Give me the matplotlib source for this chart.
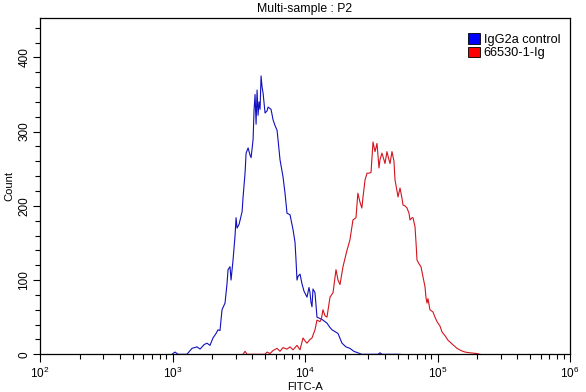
import matplotlib
matplotlib.use("Agg")
import matplotlib.pyplot as plt
import numpy as np
from matplotlib.patches import Patch
from matplotlib.ticker import LogLocator, MultipleLocator, NullFormatter

plt.rcParams.update({
    "font.family": ["Liberation Sans", "DejaVu Sans"],
    "font.size": 8.5,
    "mathtext.fontset": "custom",
    "mathtext.rm": "Liberation Sans",
    "mathtext.it": "Liberation Sans",
    "mathtext.bf": "Liberation Sans",
})

# ---------------------------------------------------------------
# Data (FITC-A channel value, event count)
# ---------------------------------------------------------------
ctrl_fitc = [991, 1045, 1101, 1285, 1403, 1531, 1614, 1730, 1821, 1918,
             2021, 2130, 2205, 2282, 2364, 2490, 2578, 2624, 2716, 2765,
             2863, 2965, 3017, 3070, 3178, 3350, 3409, 3530, 3592, 3719,
             3850, 3918, 4055, 4126, 4198, 4272, 4347, 4423, 4500, 4579,
             4659, 4741, 4824, 4994, 5170, 5261, 5542, 5737, 5940, 6149,
             6257, 6477, 6824, 7065, 7314, 7706, 8118, 8404, 8552, 8702,
             8855, 9167, 9490, 9825, 10350, 10715, 10903, 11094, 11289, 11487,
             11893, 12312, 13428, 14645, 15442, 15986, 17741, 19009, 20367, 21823,
             23383, 25054, 26845, 35539, 36800, 38070, 52130]
ctrl_count = [0, 3, 0, 0, 8, 10, 7, 13, 15, 12,
              22, 28, 33, 32, 60, 69, 95, 114, 118, 100,
              127, 160, 184, 170, 175, 192, 212, 245, 271, 278,
              268, 265, 289, 330, 350, 310, 356, 322, 340, 330,
              375, 360, 352, 325, 328, 333, 330, 316, 308, 302,
              289, 262, 239, 217, 190, 188, 168, 151, 127, 100,
              105, 108, 95, 85, 77, 90, 83, 70, 64, 88,
              83, 50, 47, 42, 36, 33, 28, 15, 10, 8,
              4, 2, 0, 0, 2, 0, 0]

sample_fitc = [3404, 3526, 3650, 4990, 5170, 5447, 5730, 6149, 6477, 6824,
               7314, 7706, 8118, 8702, 9167, 9658, 10000, 10350, 10903, 11289,
               11893, 12312, 12970, 13300, 13663, 14146, 14645, 15442, 16270, 17135,
               17741, 18368, 19350, 20730, 21823, 23010, 24250, 25054, 25990, 26845,
               27410, 28380, 29380, 30420, 31490, 32600, 33750, 34940, 36170, 36800,
               38070, 39420, 40140, 41550, 43010, 43800, 45340, 46930, 47780, 49460,
               50350, 52130, 53960, 54930, 56870, 58880, 60950, 62000, 64260, 65330,
               67630, 68860, 70020, 72480, 75030, 77760, 80460, 81900, 83330, 84740,
               87700, 92450, 95710, 99140, 104400, 108200, 114000, 120000, 128600, 140300,
               150400, 161400, 175900, 198600, 209400]
sample_count = [0, 4, 0, 0, 3, 1, 5, 8, 4, 9,
                7, 10, 6, 12, 6, 22, 18, 15, 20, 22,
                33, 46, 44, 48, 60, 52, 50, 77, 83, 114,
                100, 94, 118, 140, 154, 181, 184, 217, 205, 197,
                212, 235, 244, 244, 245, 286, 273, 284, 251, 262,
                271, 262, 257, 273, 262, 257, 273, 260, 235, 220,
                212, 224, 210, 201, 200, 197, 190, 181, 184, 184,
                172, 150, 127, 122, 118, 104, 91, 76, 69, 75,
                60, 57, 50, 44, 38, 30, 25, 19, 14, 8,
                5, 3, 2, 1, 0]

legend_labels = ["IgG2a control", "66530-1-Ig"]
ctrl_line = "#1010BE"
sample_line = "#D2141E"
ctrl_box = "#0000FF"
sample_box = "#FF0000"

# ---------------------------------------------------------------
# Figure
# ---------------------------------------------------------------
fig = plt.figure(figsize=(5.86, 3.92), dpi=100)
ax = fig.add_axes([0.0683, 0.0962, 0.9044, 0.8578])

ax.plot(ctrl_fitc, ctrl_count, color=ctrl_line, linewidth=0.8)
ax.plot(sample_fitc, sample_count, color=sample_line, linewidth=0.8)

ax.set_xscale("log")
ax.set_xlim(1e2, 1e6)
ax.set_ylim(0, 453)

ax.xaxis.set_major_locator(LogLocator(base=10, numticks=10))
ax.xaxis.set_minor_locator(LogLocator(base=10, subs=np.arange(2, 10), numticks=10))
ax.xaxis.set_minor_formatter(NullFormatter())
ax.yaxis.set_major_locator(MultipleLocator(100))
ax.yaxis.set_minor_locator(MultipleLocator(20))

ax.tick_params(which="major", direction="out", length=6, width=0.8, labelsize=8.5, pad=2)
ax.tick_params(which="minor", direction="out", length=3.5, width=0.8)
ax.tick_params(axis="y", which="major", length=5, labelsize=8.5)
for lab in ax.get_yticklabels():
    lab.set_rotation(90)
    lab.set_va("center")

for s in ax.spines.values():
    s.set_linewidth(0.9)
    s.set_color("black")

ax.set_xlabel("FITC-A", fontsize=8, labelpad=1)
ax.set_ylabel("Count", fontsize=8, labelpad=3)
ax.set_title("Multi-sample : P2", fontsize=8.8, pad=4)

handles = [Patch(facecolor=ctrl_box, edgecolor="black", linewidth=0.6),
           Patch(facecolor=sample_box, edgecolor="black", linewidth=0.6)]
ax.legend(handles, legend_labels, loc="upper left", bbox_to_anchor=(0.807, 0.955),
          frameon=False, fontsize=9.2, handlelength=0.95, handleheight=0.9,
          handletextpad=0.3, labelspacing=0.05, borderpad=0, borderaxespad=0)

fig.savefig("out.png", dpi=100)
